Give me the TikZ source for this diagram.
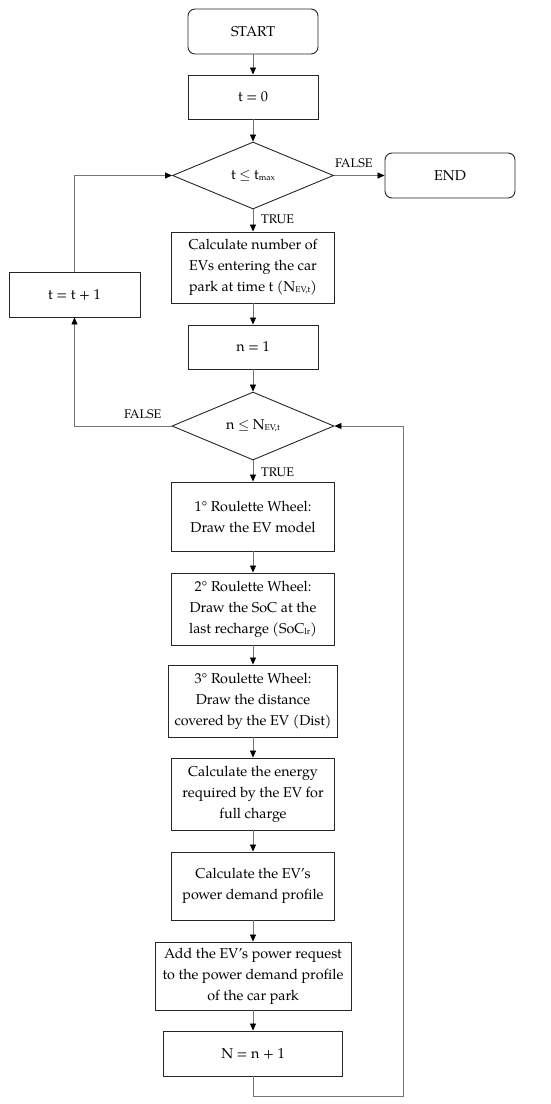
\documentclass[tikz,border=0pt]{standalone}
\usepackage{fontspec}
\setmainfont{TeX Gyre Pagella}
\usetikzlibrary{shapes.geometric,arrows.meta}
\newcommand{\mysub}[1]{\raisebox{-1pt}{\fontsize{8.5}{8.5}\selectfont #1}}
\begin{document}
\begin{tikzpicture}[x=1pt,y=-1pt,
  box/.style={draw=black!85,line width=0.9pt,align=center,inner sep=2pt,font=\fontsize{14.3}{21}\selectfont},
  term/.style={box,rounded corners=7pt},
  dec/.style={draw=black!85,line width=0.9pt,diamond,inner sep=0pt,font=\fontsize{14.3}{21}\selectfont},
  conn/.style={draw=black!55,line width=0.8pt,-{Triangle[length=7pt,width=6pt,color=black]}},
  lab/.style={font=\fontsize{12.5}{14}\selectfont,inner sep=1pt}]
\useasboundingbox (0,0) rectangle (550,1104);
\node[term,minimum width=130pt,minimum height=45pt] (start) at (253,31.5) {START};
\node[box,minimum width=130pt,minimum height=44pt] (t0) at (253,97) {t = 0};
\node[dec,minimum width=161pt,minimum height=67pt] (d1) at (253,175.5) {t $\le$ t\mysub{max}};
\node[term,minimum width=130pt,minimum height=45pt] (end) at (450,175.5) {END};
\node[box,minimum width=163pt,minimum height=71pt] (calc) at (253,267.5) {Calculate number of\\EVs entering the car\\park at time t (N\mysub{EV,t})};
\node[box,minimum width=131pt,minimum height=45pt] (tinc) at (74.5,294.5) {t = t + 1};
\node[box,minimum width=130pt,minimum height=44pt] (n1) at (253,347) {n = 1};
\node[dec,minimum width=162pt,minimum height=68pt] (d2) at (253,426) {n $\le$ N\mysub{EV,t}};
\node[box,minimum width=163pt,minimum height=69pt] (r1) at (253,516.5) {1° Roulette Wheel:\\Draw the EV model};
\node[box,minimum width=163pt,minimum height=72pt] (r2) at (253,609) {2° Roulette Wheel:\\Draw the SoC at the\\last recharge (SoC\mysub{lr})};
\node[box,minimum width=169pt,minimum height=72pt] (r3) at (253,701) {3° Roulette Wheel:\\Draw the distance\\covered by the EV (Dist)};
\node[box,minimum width=163pt,minimum height=72pt] (en) at (253,794) {Calculate the energy\\required by the EV for\\full charge};
\node[box,minimum width=163pt,minimum height=68pt] (pw) at (253,886) {Calculate the EV’s\\power demand profile};
\node[box,minimum width=196pt,minimum height=68pt] (add) at (253,976) {Add the EV’s power request\\to the power demand profile\\of the car park};
\node[box,minimum width=179pt,minimum height=45pt] (nn) at (253,1053.5) {N = n + 1};
\coordinate (b1) at (253,1096);
\coordinate (b2) at (403,1096);
\draw[conn] (start) -- (t0);
\draw[conn] (t0) -- (d1);
\draw[conn] (d1) -- (calc);
\draw[conn] (d1.east) -- (end.west);
\draw[conn] (calc) -- (n1);
\draw[conn] (n1) -- (d2);
\draw[conn] (d2) -- (r1);
\draw[conn] (r1) -- (r2);
\draw[conn] (r2) -- (r3);
\draw[conn] (r3) -- (en);
\draw[conn] (en) -- (pw);
\draw[conn] (pw) -- (add);
\draw[conn] (add) -- (nn);
\draw[conn] (tinc.north) |- (d1.west);
\draw[conn] (d2.west) -| (tinc.south);
\draw[conn] (nn.south) -- (b1) -- (b2) |- (d2.east);
\node[lab,anchor=south west] (f1) at ([xshift=0pt,yshift=7pt]d1.east) {FALSE};
\node[lab,anchor=west] (tr1) at (260,219) {TRUE};
\node[lab,anchor=south east] (f2) at ([xshift=-9pt,yshift=6pt]d2.west) {FALSE};
\node[lab,anchor=west] (tr2) at (260,472) {TRUE};
\end{tikzpicture}
\end{document}
